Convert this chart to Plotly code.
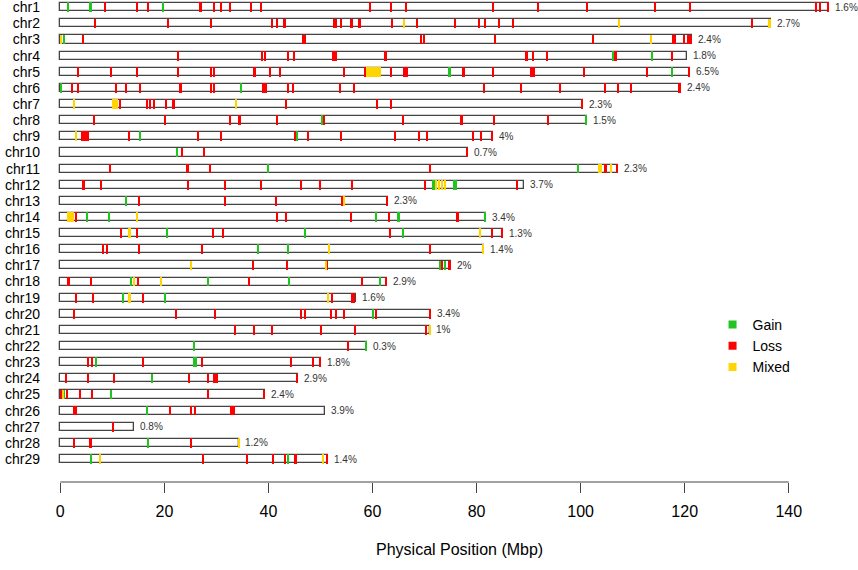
import plotly.graph_objects as go

FONT = "Liberation Sans, Arial, sans-serif"

chrom_names = [f"chr{i}" for i in range(1, 30)]
chrom_lengths = [147.8, 136.5, 121.4, 120.4, 121.0, 119.2, 100.5, 101.2, 83.2, 78.3,
                 107.2, 89.2, 62.9, 81.9, 85.0, 81.5, 75.1, 62.8, 56.8, 71.3,
                 71.1, 59.0, 50.1, 45.7, 39.4, 50.9, 14.2, 34.4, 51.5]
cnv_percent = ["1.6%", "2.7%", "2.4%", "1.8%", "6.5%", "2.4%", "2.3%", "1.5%", "4%", "0.7%",
               "2.3%", "3.7%", "2.3%", "3.4%", "1.3%", "1.4%", "2%", "2.9%", "1.6%", "3.4%",
               "1%", "0.3%", "1.8%", "2.9%", "2.4%", "3.9%", "0.8%", "1.2%", "1.4%"]

# (chromosome number, start Mbp, length Mbp)
gain_segments = [
    (1, 1.4, 0.3), (1, 5.7, 0.3), (1, 19.7, 0.3),
    (3, 0.6, 0.3),
    (4, 106.2, 0.3), (4, 113.7, 0.3),
    (5, 74.7, 0.3), (5, 117.5, 0.3),
    (6, 0.1, 0.3), (6, 34.7, 0.3),
    (8, 50.2, 0.3), (8, 100.9, 0.3),
    (9, 15.3, 0.3), (9, 45.4, 0.3),
    (10, 22.3, 0.3),
    (11, 39.9, 0.3), (11, 99.4, 0.3),
    (12, 71.4, 0.6), (12, 75.5, 0.7),
    (13, 12.6, 0.3),
    (14, 5.1, 0.3), (14, 9.3, 0.3), (14, 60.5, 0.3), (14, 64.9, 0.3), (14, 81.6, 0.3),
    (15, 20.4, 0.3), (15, 47.0, 0.3), (15, 65.7, 0.3),
    (16, 37.9, 0.3), (16, 43.6, 0.3),
    (17, 72.8, 0.3), (17, 73.9, 0.3),
    (18, 13.5, 0.3), (18, 28.1, 0.5), (18, 43.9, 0.3), (18, 61.2, 0.5),
    (19, 11.9, 0.3), (19, 20.0, 0.3),
    (20, 60.0, 0.3),
    (22, 25.6, 0.3), (22, 58.7, 0.3),
    (23, 6.7, 0.3), (23, 25.6, 0.3), (23, 25.9, 0.3),
    (24, 17.6, 0.3),
    (25, 0.65, 0.3), (25, 9.7, 0.3),
    (26, 16.6, 0.3),
    (28, 16.7, 0.3),
    (29, 5.8, 0.3), (29, 43.6, 0.3),
]

loss_segments = [
    (1, 8.5, 0.3), (1, 14.7, 0.3), (1, 16.8, 0.3), (1, 26.6, 0.6), (1, 29.5, 0.3), (1, 30.8, 0.3),
    (1, 32.6, 0.3), (1, 36.6, 0.3), (1, 38.4, 0.3), (1, 59.4, 0.3), (1, 63.4, 0.3), (1, 66.4, 0.3),
    (1, 83.1, 0.3), (1, 91.7, 0.3), (1, 101.2, 0.3), (1, 114.2, 0.3), (1, 121.0, 0.3),
    (1, 145.2, 0.3), (1, 145.9, 0.3), (1, 147.5, 0.3),
    (2, 6.5, 0.3), (2, 20.6, 0.3), (2, 28.9, 0.3), (2, 40.6, 0.3), (2, 41.6, 0.3), (2, 42.8, 0.5),
    (2, 52.5, 0.6), (2, 53.9, 0.3), (2, 55.7, 0.6), (2, 57.2, 0.5), (2, 63.7, 0.3), (2, 68.5, 0.3),
    (2, 75.8, 0.3), (2, 80.3, 0.3), (2, 81.5, 0.3), (2, 84.2, 0.3), (2, 86.9, 0.3), (2, 132.9, 0.3),
    (3, 4.3, 0.3), (3, 46.4, 0.9), (3, 69.3, 0.3), (3, 69.8, 0.3), (3, 83.5, 0.3), (3, 102.3, 0.3),
    (3, 117.7, 0.3), (3, 118.1, 0.3), (3, 119.7, 0.3), (3, 120.4, 1.0),
    (4, 22.5, 0.3), (4, 38.7, 0.3), (4, 39.2, 0.3), (4, 43.6, 0.3), (4, 44.8, 0.3), (4, 52.4, 0.3),
    (4, 52.8, 0.3), (4, 62.2, 0.5), (4, 89.5, 0.3), (4, 90.7, 0.3), (4, 93.5, 0.3), (4, 106.6, 0.3),
    (4, 117.4, 0.3),
    (5, 3.3, 0.3), (5, 9.6, 0.3), (5, 14.7, 0.3), (5, 22.6, 0.3), (5, 28.8, 0.3), (5, 29.4, 0.3),
    (5, 37.1, 0.6), (5, 40.2, 0.3), (5, 42.1, 0.3), (5, 54.4, 0.3), (5, 58.4, 0.3), (5, 63.5, 0.3),
    (5, 65.9, 1.0), (5, 77.2, 0.6), (5, 83.0, 0.3), (5, 90.3, 0.9), (5, 100.5, 0.3), (5, 112.6, 0.3),
    (5, 120.7, 0.3),
    (6, 2.2, 0.3), (6, 3.3, 0.3), (6, 10.6, 0.3), (6, 12.6, 0.3), (6, 15.3, 0.3), (6, 23.0, 0.3),
    (6, 28.8, 0.3), (6, 29.4, 0.3), (6, 38.8, 0.3), (6, 39.2, 0.3), (6, 39.5, 0.3), (6, 43.6, 0.3),
    (6, 44.6, 0.3), (6, 53.6, 0.3), (6, 56.4, 0.3), (6, 81.3, 0.3), (6, 88.5, 0.3), (6, 95.9, 0.3),
    (6, 104.5, 0.3), (6, 106.9, 0.5), (6, 109.6, 0.3), (6, 118.9, 0.3),
    (7, 11.3, 0.3), (7, 16.5, 0.3), (7, 17.2, 0.3), (7, 17.9, 0.3), (7, 20.3, 0.3), (7, 21.5, 0.5),
    (7, 43.3, 0.3), (7, 60.8, 0.3), (7, 63.5, 0.3), (7, 100.2, 0.3),
    (8, 6.3, 0.3), (8, 20.0, 0.3), (8, 32.5, 0.3), (8, 34.2, 0.5), (8, 41.5, 0.3), (8, 50.5, 0.3),
    (8, 65.8, 0.3), (8, 77.0, 0.3), (8, 83.2, 0.3), (8, 93.6, 0.3),
    (9, 4.0, 1.5), (9, 13.0, 0.4), (9, 26.4, 0.3), (9, 30.7, 0.3), (9, 45.0, 0.3), (9, 47.5, 0.3),
    (9, 53.8, 0.3), (9, 64.2, 0.3), (9, 68.9, 0.3), (9, 70.4, 0.3), (9, 79.1, 0.5), (9, 80.7, 0.3),
    (9, 82.9, 0.3),
    (10, 23.3, 0.3), (10, 27.5, 0.3), (10, 78.0, 0.3),
    (11, 9.4, 0.3), (11, 24.2, 0.6), (11, 28.6, 0.3), (11, 71.0, 0.3), (11, 104.5, 0.5), (11, 106.9, 0.3),
    (12, 4.2, 0.6), (12, 7.7, 0.3), (12, 24.4, 0.3), (12, 31.5, 0.3), (12, 38.4, 0.3), (12, 46.1, 0.3),
    (12, 49.8, 0.3), (12, 56.0, 0.3), (12, 70.0, 0.3), (12, 87.6, 0.3),
    (13, 15.0, 0.3), (13, 31.5, 0.3), (13, 41.2, 0.4), (13, 54.1, 0.3), (13, 62.6, 0.3),
    (14, 3.0, 0.3), (14, 41.6, 0.3), (14, 43.2, 0.3), (14, 55.7, 0.3), (14, 63.0, 0.3), (14, 76.0, 0.6),
    (15, 11.4, 0.5), (15, 14.7, 0.3), (15, 29.2, 0.3), (15, 31.1, 0.3), (15, 63.2, 0.3), (15, 82.9, 0.3),
    (15, 84.7, 0.3),
    (16, 8.1, 0.3), (16, 8.9, 0.3), (16, 15.1, 0.3), (16, 27.0, 0.4), (16, 70.9, 0.3),
    (17, 36.9, 0.4), (17, 43.5, 0.3), (17, 51.2, 0.3), (17, 73.2, 0.4), (17, 74.7, 0.3),
    (18, 1.3, 0.5), (18, 5.8, 0.3), (18, 14.8, 0.3), (18, 36.1, 0.3), (18, 57.8, 0.3), (18, 62.5, 0.3),
    (19, 2.9, 0.3), (19, 6.2, 0.3), (19, 15.8, 0.3), (19, 52.2, 0.3), (19, 56.0, 0.3), (19, 56.3, 0.4),
    (20, 2.6, 0.3), (20, 22.0, 0.5), (20, 29.7, 0.3), (20, 46.1, 0.3), (20, 47.0, 0.3), (20, 52.0, 0.3),
    (20, 52.9, 0.3), (20, 54.4, 0.3), (20, 60.4, 0.5), (20, 71.0, 0.3),
    (21, 33.4, 0.3), (21, 37.2, 0.3), (21, 40.5, 0.3), (21, 50.0, 0.3), (21, 56.6, 0.3), (21, 70.2, 0.3),
    (22, 55.2, 0.3),
    (23, 5.2, 0.3), (23, 6.0, 0.3), (23, 15.8, 0.3), (23, 27.2, 0.3), (23, 44.2, 0.3), (23, 48.4, 0.3),
    (23, 49.8, 0.3),
    (24, 1.0, 0.3), (24, 5.3, 0.3), (24, 10.3, 0.3), (24, 24.6, 0.3), (24, 28.3, 0.3), (24, 29.5, 0.3),
    (24, 29.8, 0.5), (24, 45.4, 0.3),
    (25, 0.0, 0.3), (25, 1.0, 0.4), (25, 3.6, 0.3), (25, 6.0, 0.3), (25, 28.3, 0.3), (25, 39.1, 0.3),
    (26, 2.5, 0.8), (26, 20.9, 0.3), (26, 25.1, 0.3), (26, 25.8, 0.3), (26, 32.7, 0.9),
    (27, 10.1, 0.3),
    (28, 2.6, 0.3), (28, 5.7, 0.3), (28, 25.1, 0.3),
    (29, 27.3, 0.3), (29, 35.8, 0.3), (29, 40.7, 0.3), (29, 43.1, 0.3), (29, 45.1, 0.3), (29, 51.2, 0.3),
]

mixed_segments = [
    (2, 65.9, 0.3), (2, 107.2, 0.3), (2, 136.2, 0.3),
    (3, 0.0, 0.4), (3, 113.5, 0.3),
    (5, 58.8, 2.8),
    (7, 2.6, 0.3), (7, 10.0, 1.0), (7, 33.7, 0.3),
    (9, 2.95, 0.3),
    (11, 103.3, 0.4), (11, 103.8, 0.4), (11, 105.8, 0.3),
    (12, 72.1, 0.3), (12, 72.6, 0.3), (12, 73.2, 0.3), (12, 73.8, 0.3),
    (13, 54.5, 0.3),
    (14, 1.35, 1.25), (14, 14.7, 0.3),
    (15, 13.0, 0.5), (15, 80.5, 0.3),
    (16, 51.5, 0.4), (16, 81.2, 0.3),
    (17, 25.1, 0.3), (17, 50.9, 0.3),
    (18, 13.9, 0.4), (18, 19.3, 0.3),
    (19, 13.2, 0.3), (19, 51.4, 0.3),
    (21, 70.9, 0.3),
    (25, 0.4, 0.3),
    (28, 34.2, 0.3),
    (29, 7.6, 0.3), (29, 50.3, 0.3),
]

axis_ticks = [0, 20, 40, 60, 80, 100, 120, 140]

GAIN_C = "#22C422"
LOSS_C = "#FF0000"
MIX_C = "#FFD400"
OUTLINE_C = "#444444"

chrom_idx = list(range(1, 30))

fig = go.Figure()
fig.add_trace(go.Bar(
    orientation="h", y=chrom_idx, x=chrom_lengths, base=[0] * 29, width=0.5,
    marker=dict(color="white", line=dict(color=OUTLINE_C, width=1.3)),
    showlegend=False, hoverinfo="skip"))

for name, segs, col in [("Gain", gain_segments, GAIN_C),
                        ("Loss", loss_segments, LOSS_C),
                        ("Mixed", mixed_segments, MIX_C)]:
    fig.add_trace(go.Bar(
        orientation="h", y=[s[0] for s in segs], base=[s[1] for s in segs],
        x=[s[2] for s in segs], width=0.6,
        marker=dict(color=col, line=dict(width=0)), showlegend=False, name=name))

for name, col in [("Gain", GAIN_C), ("Loss", LOSS_C), ("Mixed", MIX_C)]:
    fig.add_trace(go.Scatter(x=[None], y=[None], mode="markers", name=name,
                             marker=dict(symbol="square", size=8, color=col)))

for i, (L, p) in enumerate(zip(chrom_lengths, cnv_percent)):
    fig.add_annotation(x=L, y=i + 1, text=p, showarrow=False, xanchor="left",
                       xshift=4, font=dict(size=10, color="#333333", family=FONT))

# axis line spanning 0-140 like the reference
fig.add_shape(type="line", x0=axis_ticks[0], x1=axis_ticks[-1], xref="x", yref="paper",
              y0=0, y1=0, line=dict(color=OUTLINE_C, width=1.2))

fig.add_annotation(x=0.5075, y=-0.1406, xref="paper", yref="paper", showarrow=False,
                   text="Physical Position (Mbp)", yanchor="middle",
                   font=dict(size=16, color="black", family=FONT))

fig.update_layout(
    width=858, height=570,
    margin=dict(l=55, r=5, t=0, b=88),
    paper_bgcolor="white", plot_bgcolor="white",
    barmode="overlay", bargap=0,
    font=dict(family=FONT, color="black"),
    legend=dict(x=0.824, y=0.359, xanchor="left", yanchor="top",
                font=dict(size=14, family=FONT), bgcolor="rgba(0,0,0,0)"),
    xaxis=dict(range=[-1.02, 152.35], tickvals=axis_ticks, ticks="outside", ticklen=10,
               tickwidth=1.2, tickcolor=OUTLINE_C, showline=False, showgrid=False,
               zeroline=False, tickfont=dict(size=16, family=FONT, color="black"),
               ticklabelstandoff=5),
    yaxis=dict(range=[30.425, 0.55], tickvals=chrom_idx, ticktext=chrom_names,
               showline=False, showgrid=False, zeroline=False, ticks="",
               tickfont=dict(size=14, family=FONT, color="black"), ticklabelstandoff=14,
               ticklabeloverflow="allow"),
)

fig.write_html("out.html", config={"displayModeBar": False},
               post_script="document.body.style.margin='0px';document.body.style.overflow='hidden';")
